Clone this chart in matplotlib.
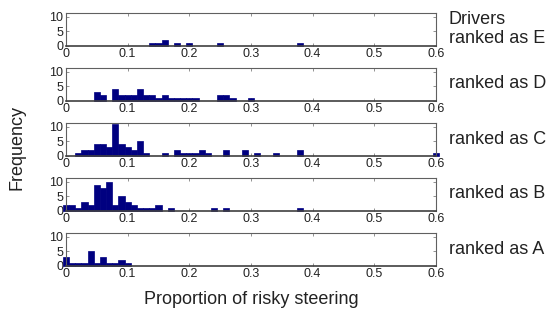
import matplotlib
matplotlib.use("Agg")
import matplotlib.pyplot as plt

plt.rcParams['font.family'] = ['Liberation Sans', 'DejaVu Sans']

# Histogram bins are 0.01 wide, centred on multiples of 0.01
bin_width = 0.01

E_centers = [0.14, 0.15, 0.16, 0.18, 0.20, 0.25, 0.38]
E_counts  = [1, 1, 2, 1, 1, 1, 1]

D_centers = [0.05, 0.06, 0.08, 0.09, 0.10, 0.11, 0.12, 0.13, 0.14, 0.15, 0.16,
             0.17, 0.18, 0.19, 0.20, 0.21, 0.25, 0.26, 0.27, 0.30]
D_counts  = [3, 2, 4, 2, 2, 2, 4, 2, 2, 1, 2,
             1, 1, 1, 1, 1, 2, 2, 1, 1]

C_centers = [0.02, 0.03, 0.04, 0.05, 0.06, 0.07, 0.08, 0.09, 0.10, 0.11, 0.12, 0.13,
             0.16, 0.18, 0.19, 0.20, 0.21, 0.22, 0.23, 0.26, 0.29, 0.31, 0.34, 0.38, 0.60]
C_counts  = [1, 2, 2, 4, 4, 3, 11, 4, 3, 2, 5, 1,
             1, 2, 1, 1, 1, 2, 1, 2, 2, 1, 1, 2, 1]

B_centers = [0.00, 0.01, 0.02, 0.03, 0.04, 0.05, 0.06, 0.07, 0.08, 0.09, 0.10, 0.11,
             0.12, 0.13, 0.14, 0.15, 0.17, 0.24, 0.26, 0.38]
B_counts  = [2, 2, 1, 3, 2, 9, 8, 10, 2, 5, 3, 2,
             1, 1, 1, 2, 1, 1, 1, 1]

A_centers = [0.00, 0.01, 0.02, 0.03, 0.04, 0.05, 0.06, 0.07, 0.08, 0.09, 0.10]
A_counts  = [3, 1, 1, 1, 5, 1, 3, 1, 1, 2, 1]

panel_labels = ["Drivers\nranked as E", "ranked as D", "ranked as C",
                "ranked as B", "ranked as A"]
panels = [(E_centers, E_counts), (D_centers, D_counts), (C_centers, C_counts),
          (B_centers, B_counts), (A_centers, A_counts)]

x_ticks = [0, 0.1, 0.2, 0.3, 0.4, 0.5, 0.6]
x_ticklabels = ["0", "0.1", "0.2", "0.3", "0.4", "0.5", "0.6"]
y_ticks = [0, 5, 10]

W, H = 554, 320
fig = plt.figure(figsize=(W / 100, H / 100), dpi=100)

bar_color = "#000080"
left_px, right_px = 66, 436
panel_h = 33

for k, ((cen, cnt), lab) in enumerate(zip(panels, panel_labels)):
    top_px = 12.5 + 55 * k
    ax = fig.add_axes([left_px / W, 1 - (top_px + panel_h) / H,
                       (right_px - left_px) / W, panel_h / H])
    ax.bar(cen, cnt, width=bin_width, color=bar_color, edgecolor=bar_color,
           linewidth=0.5, clip_on=False, zorder=2)
    ax.set_xlim(0, 0.6)
    ax.set_ylim(0, 11.5)
    ax.set_xticks(x_ticks)
    ax.set_xticklabels(x_ticklabels)
    ax.set_yticks(y_ticks)
    ax.tick_params(direction="in", length=2.5, width=0.6, color="#808080",
                   top=True, right=True, labelsize=9, pad=2,
                   labelcolor="#222222")
    for s in ax.spines.values():
        s.set_color("#606060")
        s.set_linewidth(0.8)
    ax.spines["bottom"].set_color("#404040")
    ax.spines["bottom"].set_linewidth(1.2)
    ax.text(1.035, 0.5, lab, transform=ax.transAxes, ha="left", va="center",
            fontsize=13, color="#222222", linespacing=1.2)

fig.text(251 / W, 1 - 300 / H, "Proportion of risky steering", ha="center",
         va="center", fontsize=13, color="#222222")
fig.text(17 / W, 1 - 148 / H, "Frequency", ha="center", va="center",
         rotation=90, fontsize=13, color="#222222")

fig.savefig("out.png", dpi=100, facecolor="white")
